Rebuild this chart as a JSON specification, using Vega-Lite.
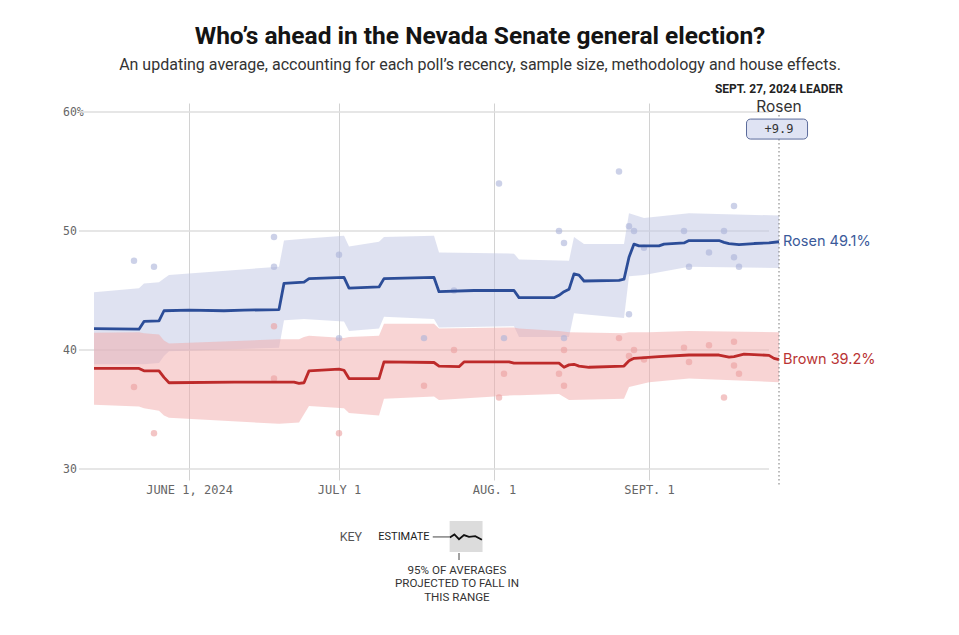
{
  "$schema": "https://vega.github.io/schema/vega-lite/v6.json",
  "width": 700,
  "height": 366,
  "autosize": {"type": "none"},
  "padding": {"left": 79, "top": 103, "right": 180, "bottom": 166},
  "background": "#ffffff",
  "config": {"view": {"stroke": null}},
  "title": {
    "text": "Who’s ahead in the Nevada Senate general election?",
    "subtitle": "An updating average, accounting for each poll’s recency, sample size, methodology and house effects.",
    "anchor": "middle",
    "dx": 51,
    "offset": 9,
    "font": "Roboto",
    "fontSize": 24.5,
    "fontWeight": "bold",
    "color": "#141414",
    "subtitleFont": "Roboto",
    "subtitleFontSize": 16,
    "subtitleColor": "#333333",
    "subtitlePadding": 8
  },
  "datasets": {
    "est": [
      {"date": "2024-05-13T00:00:00", "cand": "Rosen", "v": 41.8},
      {"date": "2024-05-22T00:00:00", "cand": "Rosen", "v": 41.75},
      {"date": "2024-05-23T00:00:00", "cand": "Rosen", "v": 42.4},
      {"date": "2024-05-26T00:00:00", "cand": "Rosen", "v": 42.45},
      {"date": "2024-05-27T00:00:00", "cand": "Rosen", "v": 43.3},
      {"date": "2024-06-01T00:00:00", "cand": "Rosen", "v": 43.35},
      {"date": "2024-06-08T00:00:00", "cand": "Rosen", "v": 43.3},
      {"date": "2024-06-12T00:00:00", "cand": "Rosen", "v": 43.35},
      {"date": "2024-06-19T00:00:00", "cand": "Rosen", "v": 43.4},
      {"date": "2024-06-20T00:00:00", "cand": "Rosen", "v": 45.6},
      {"date": "2024-06-24T00:00:00", "cand": "Rosen", "v": 45.7},
      {"date": "2024-06-25T00:00:00", "cand": "Rosen", "v": 46.0},
      {"date": "2024-07-02T00:00:00", "cand": "Rosen", "v": 46.1},
      {"date": "2024-07-03T00:00:00", "cand": "Rosen", "v": 45.2},
      {"date": "2024-07-09T00:00:00", "cand": "Rosen", "v": 45.3},
      {"date": "2024-07-10T00:00:00", "cand": "Rosen", "v": 46.0},
      {"date": "2024-07-20T00:00:00", "cand": "Rosen", "v": 46.1},
      {"date": "2024-07-21T00:00:00", "cand": "Rosen", "v": 44.9},
      {"date": "2024-07-28T00:00:00", "cand": "Rosen", "v": 45.0},
      {"date": "2024-08-05T00:00:00", "cand": "Rosen", "v": 45.0},
      {"date": "2024-08-06T00:00:00", "cand": "Rosen", "v": 44.4},
      {"date": "2024-08-13T00:00:00", "cand": "Rosen", "v": 44.4},
      {"date": "2024-08-14T00:00:00", "cand": "Rosen", "v": 44.6},
      {"date": "2024-08-15T00:00:00", "cand": "Rosen", "v": 44.9},
      {"date": "2024-08-16T00:00:00", "cand": "Rosen", "v": 45.1},
      {"date": "2024-08-17T00:00:00", "cand": "Rosen", "v": 46.4},
      {"date": "2024-08-18T00:00:00", "cand": "Rosen", "v": 46.3},
      {"date": "2024-08-19T00:00:00", "cand": "Rosen", "v": 45.8},
      {"date": "2024-08-26T00:00:00", "cand": "Rosen", "v": 45.85},
      {"date": "2024-08-27T00:00:00", "cand": "Rosen", "v": 45.95},
      {"date": "2024-08-28T00:00:00", "cand": "Rosen", "v": 47.8},
      {"date": "2024-08-29T00:00:00", "cand": "Rosen", "v": 48.9},
      {"date": "2024-08-30T00:00:00", "cand": "Rosen", "v": 48.75},
      {"date": "2024-09-03T00:00:00", "cand": "Rosen", "v": 48.75},
      {"date": "2024-09-04T00:00:00", "cand": "Rosen", "v": 48.9},
      {"date": "2024-09-08T00:00:00", "cand": "Rosen", "v": 49.0},
      {"date": "2024-09-09T00:00:00", "cand": "Rosen", "v": 49.2},
      {"date": "2024-09-15T00:00:00", "cand": "Rosen", "v": 49.2},
      {"date": "2024-09-16T00:00:00", "cand": "Rosen", "v": 49.05},
      {"date": "2024-09-17T00:00:00", "cand": "Rosen", "v": 48.95},
      {"date": "2024-09-19T00:00:00", "cand": "Rosen", "v": 48.85},
      {"date": "2024-09-22T00:00:00", "cand": "Rosen", "v": 48.95},
      {"date": "2024-09-25T00:00:00", "cand": "Rosen", "v": 49.0},
      {"date": "2024-09-27T00:00:00", "cand": "Rosen", "v": 49.1},
      {"date": "2024-05-13T00:00:00", "cand": "Brown", "v": 38.45},
      {"date": "2024-05-22T00:00:00", "cand": "Brown", "v": 38.45},
      {"date": "2024-05-23T00:00:00", "cand": "Brown", "v": 38.25},
      {"date": "2024-05-26T00:00:00", "cand": "Brown", "v": 38.25},
      {"date": "2024-05-27T00:00:00", "cand": "Brown", "v": 37.7},
      {"date": "2024-05-28T00:00:00", "cand": "Brown", "v": 37.25},
      {"date": "2024-06-10T00:00:00", "cand": "Brown", "v": 37.3},
      {"date": "2024-06-22T00:00:00", "cand": "Brown", "v": 37.3},
      {"date": "2024-06-23T00:00:00", "cand": "Brown", "v": 37.2},
      {"date": "2024-06-24T00:00:00", "cand": "Brown", "v": 37.25},
      {"date": "2024-06-25T00:00:00", "cand": "Brown", "v": 38.25},
      {"date": "2024-07-01T00:00:00", "cand": "Brown", "v": 38.4},
      {"date": "2024-07-02T00:00:00", "cand": "Brown", "v": 38.3},
      {"date": "2024-07-03T00:00:00", "cand": "Brown", "v": 37.6},
      {"date": "2024-07-09T00:00:00", "cand": "Brown", "v": 37.6},
      {"date": "2024-07-10T00:00:00", "cand": "Brown", "v": 39.0},
      {"date": "2024-07-20T00:00:00", "cand": "Brown", "v": 38.95},
      {"date": "2024-07-21T00:00:00", "cand": "Brown", "v": 38.65},
      {"date": "2024-07-25T00:00:00", "cand": "Brown", "v": 38.6},
      {"date": "2024-07-26T00:00:00", "cand": "Brown", "v": 39.0},
      {"date": "2024-08-04T00:00:00", "cand": "Brown", "v": 39.0},
      {"date": "2024-08-05T00:00:00", "cand": "Brown", "v": 38.9},
      {"date": "2024-08-14T00:00:00", "cand": "Brown", "v": 38.9},
      {"date": "2024-08-15T00:00:00", "cand": "Brown", "v": 38.55},
      {"date": "2024-08-16T00:00:00", "cand": "Brown", "v": 38.75},
      {"date": "2024-08-17T00:00:00", "cand": "Brown", "v": 38.8},
      {"date": "2024-08-18T00:00:00", "cand": "Brown", "v": 38.65},
      {"date": "2024-08-20T00:00:00", "cand": "Brown", "v": 38.55},
      {"date": "2024-08-27T00:00:00", "cand": "Brown", "v": 38.65},
      {"date": "2024-08-28T00:00:00", "cand": "Brown", "v": 39.1},
      {"date": "2024-08-29T00:00:00", "cand": "Brown", "v": 39.3},
      {"date": "2024-09-03T00:00:00", "cand": "Brown", "v": 39.45},
      {"date": "2024-09-09T00:00:00", "cand": "Brown", "v": 39.58},
      {"date": "2024-09-15T00:00:00", "cand": "Brown", "v": 39.58},
      {"date": "2024-09-17T00:00:00", "cand": "Brown", "v": 39.4},
      {"date": "2024-09-18T00:00:00", "cand": "Brown", "v": 39.45},
      {"date": "2024-09-20T00:00:00", "cand": "Brown", "v": 39.66},
      {"date": "2024-09-25T00:00:00", "cand": "Brown", "v": 39.55},
      {"date": "2024-09-26T00:00:00", "cand": "Brown", "v": 39.3},
      {"date": "2024-09-27T00:00:00", "cand": "Brown", "v": 39.2}
    ],
    "band": [
      {"date": "2024-05-13T00:00:00", "cand": "Rosen", "lo": 38.8, "hi": 44.85},
      {"date": "2024-05-22T00:00:00", "cand": "Rosen", "lo": 38.8, "hi": 45.2},
      {"date": "2024-05-23T00:00:00", "cand": "Rosen", "lo": 38.8, "hi": 45.6},
      {"date": "2024-05-26T00:00:00", "cand": "Rosen", "lo": 38.9, "hi": 45.7},
      {"date": "2024-05-27T00:00:00", "cand": "Rosen", "lo": 39.5, "hi": 46.0},
      {"date": "2024-05-28T00:00:00", "cand": "Rosen", "lo": 39.9, "hi": 46.3},
      {"date": "2024-06-19T00:00:00", "cand": "Rosen", "lo": 40.2, "hi": 47.0},
      {"date": "2024-06-20T00:00:00", "cand": "Rosen", "lo": 42.5, "hi": 49.2},
      {"date": "2024-06-24T00:00:00", "cand": "Rosen", "lo": 42.6, "hi": 49.35},
      {"date": "2024-07-02T00:00:00", "cand": "Rosen", "lo": 42.4, "hi": 49.6},
      {"date": "2024-07-03T00:00:00", "cand": "Rosen", "lo": 41.6, "hi": 48.7},
      {"date": "2024-07-09T00:00:00", "cand": "Rosen", "lo": 41.8, "hi": 49.1},
      {"date": "2024-07-10T00:00:00", "cand": "Rosen", "lo": 42.8, "hi": 49.5},
      {"date": "2024-07-20T00:00:00", "cand": "Rosen", "lo": 42.6, "hi": 49.6},
      {"date": "2024-07-21T00:00:00", "cand": "Rosen", "lo": 41.9, "hi": 48.2},
      {"date": "2024-08-05T00:00:00", "cand": "Rosen", "lo": 42.0, "hi": 48.1},
      {"date": "2024-08-06T00:00:00", "cand": "Rosen", "lo": 41.1, "hi": 47.6},
      {"date": "2024-08-16T00:00:00", "cand": "Rosen", "lo": 41.1, "hi": 47.5},
      {"date": "2024-08-17T00:00:00", "cand": "Rosen", "lo": 43.1, "hi": 49.5},
      {"date": "2024-08-19T00:00:00", "cand": "Rosen", "lo": 43.0, "hi": 48.9},
      {"date": "2024-08-27T00:00:00", "cand": "Rosen", "lo": 42.7, "hi": 48.9},
      {"date": "2024-08-28T00:00:00", "cand": "Rosen", "lo": 46.2, "hi": 51.5},
      {"date": "2024-08-31T00:00:00", "cand": "Rosen", "lo": 46.3, "hi": 51.1},
      {"date": "2024-09-09T00:00:00", "cand": "Rosen", "lo": 47.0, "hi": 51.5},
      {"date": "2024-09-27T00:00:00", "cand": "Rosen", "lo": 46.9, "hi": 51.3},
      {"date": "2024-05-13T00:00:00", "cand": "Brown", "lo": 35.4, "hi": 41.45},
      {"date": "2024-05-22T00:00:00", "cand": "Brown", "lo": 35.25, "hi": 41.5},
      {"date": "2024-05-23T00:00:00", "cand": "Brown", "lo": 35.1, "hi": 41.4},
      {"date": "2024-05-26T00:00:00", "cand": "Brown", "lo": 34.9, "hi": 41.3},
      {"date": "2024-05-27T00:00:00", "cand": "Brown", "lo": 34.5, "hi": 40.8},
      {"date": "2024-05-28T00:00:00", "cand": "Brown", "lo": 34.3, "hi": 40.55},
      {"date": "2024-06-19T00:00:00", "cand": "Brown", "lo": 33.8, "hi": 40.9},
      {"date": "2024-06-23T00:00:00", "cand": "Brown", "lo": 33.9, "hi": 40.9},
      {"date": "2024-06-24T00:00:00", "cand": "Brown", "lo": 34.6, "hi": 41.1},
      {"date": "2024-06-25T00:00:00", "cand": "Brown", "lo": 35.3, "hi": 41.2},
      {"date": "2024-07-02T00:00:00", "cand": "Brown", "lo": 35.1, "hi": 41.0},
      {"date": "2024-07-03T00:00:00", "cand": "Brown", "lo": 34.7, "hi": 41.1},
      {"date": "2024-07-09T00:00:00", "cand": "Brown", "lo": 34.5, "hi": 41.2},
      {"date": "2024-07-10T00:00:00", "cand": "Brown", "lo": 35.9, "hi": 42.2},
      {"date": "2024-07-20T00:00:00", "cand": "Brown", "lo": 36.1, "hi": 42.2},
      {"date": "2024-07-21T00:00:00", "cand": "Brown", "lo": 35.8, "hi": 41.8},
      {"date": "2024-08-05T00:00:00", "cand": "Brown", "lo": 36.2, "hi": 41.9},
      {"date": "2024-08-06T00:00:00", "cand": "Brown", "lo": 36.2, "hi": 41.8},
      {"date": "2024-08-14T00:00:00", "cand": "Brown", "lo": 36.3, "hi": 41.6},
      {"date": "2024-08-16T00:00:00", "cand": "Brown", "lo": 35.8, "hi": 41.5},
      {"date": "2024-08-27T00:00:00", "cand": "Brown", "lo": 35.9, "hi": 41.4},
      {"date": "2024-08-28T00:00:00", "cand": "Brown", "lo": 36.9, "hi": 41.5},
      {"date": "2024-09-01T00:00:00", "cand": "Brown", "lo": 37.3, "hi": 41.5},
      {"date": "2024-09-09T00:00:00", "cand": "Brown", "lo": 37.6, "hi": 41.6},
      {"date": "2024-09-27T00:00:00", "cand": "Brown", "lo": 37.3, "hi": 41.5}
    ],
    "polls": [
      {"date": "2024-05-21T00:00:00", "cand": "Rosen", "v": 47.5},
      {"date": "2024-05-25T00:00:00", "cand": "Rosen", "v": 47.0},
      {"date": "2024-06-18T00:00:00", "cand": "Rosen", "v": 49.5},
      {"date": "2024-06-18T00:00:00", "cand": "Rosen", "v": 47.0},
      {"date": "2024-07-01T00:00:00", "cand": "Rosen", "v": 48.0},
      {"date": "2024-07-01T00:00:00", "cand": "Rosen", "v": 41.0},
      {"date": "2024-07-18T00:00:00", "cand": "Rosen", "v": 41.0},
      {"date": "2024-07-24T00:00:00", "cand": "Rosen", "v": 45.0},
      {"date": "2024-08-02T00:00:00", "cand": "Rosen", "v": 54.0},
      {"date": "2024-08-03T00:00:00", "cand": "Rosen", "v": 41.0},
      {"date": "2024-08-14T00:00:00", "cand": "Rosen", "v": 50.0},
      {"date": "2024-08-15T00:00:00", "cand": "Rosen", "v": 49.0},
      {"date": "2024-08-15T00:00:00", "cand": "Rosen", "v": 41.0},
      {"date": "2024-08-26T00:00:00", "cand": "Rosen", "v": 55.0},
      {"date": "2024-08-28T00:00:00", "cand": "Rosen", "v": 50.4},
      {"date": "2024-08-28T00:00:00", "cand": "Rosen", "v": 43.0},
      {"date": "2024-08-29T00:00:00", "cand": "Rosen", "v": 50.0},
      {"date": "2024-08-31T00:00:00", "cand": "Rosen", "v": 48.6},
      {"date": "2024-09-08T00:00:00", "cand": "Rosen", "v": 50.0},
      {"date": "2024-09-09T00:00:00", "cand": "Rosen", "v": 47.0},
      {"date": "2024-09-13T00:00:00", "cand": "Rosen", "v": 48.2},
      {"date": "2024-09-16T00:00:00", "cand": "Rosen", "v": 50.0},
      {"date": "2024-09-18T00:00:00", "cand": "Rosen", "v": 52.1},
      {"date": "2024-09-18T00:00:00", "cand": "Rosen", "v": 47.8},
      {"date": "2024-09-19T00:00:00", "cand": "Rosen", "v": 47.0},
      {"date": "2024-05-21T00:00:00", "cand": "Brown", "v": 36.9},
      {"date": "2024-05-25T00:00:00", "cand": "Brown", "v": 33.0},
      {"date": "2024-06-18T00:00:00", "cand": "Brown", "v": 42.0},
      {"date": "2024-06-18T00:00:00", "cand": "Brown", "v": 37.6},
      {"date": "2024-07-01T00:00:00", "cand": "Brown", "v": 33.0},
      {"date": "2024-07-18T00:00:00", "cand": "Brown", "v": 37.0},
      {"date": "2024-07-24T00:00:00", "cand": "Brown", "v": 40.0},
      {"date": "2024-08-02T00:00:00", "cand": "Brown", "v": 36.0},
      {"date": "2024-08-03T00:00:00", "cand": "Brown", "v": 38.0},
      {"date": "2024-08-14T00:00:00", "cand": "Brown", "v": 38.0},
      {"date": "2024-08-15T00:00:00", "cand": "Brown", "v": 40.0},
      {"date": "2024-08-15T00:00:00", "cand": "Brown", "v": 37.0},
      {"date": "2024-08-26T00:00:00", "cand": "Brown", "v": 41.0},
      {"date": "2024-08-28T00:00:00", "cand": "Brown", "v": 39.5},
      {"date": "2024-08-29T00:00:00", "cand": "Brown", "v": 40.0},
      {"date": "2024-08-31T00:00:00", "cand": "Brown", "v": 39.2},
      {"date": "2024-09-08T00:00:00", "cand": "Brown", "v": 40.2},
      {"date": "2024-09-09T00:00:00", "cand": "Brown", "v": 39.0},
      {"date": "2024-09-13T00:00:00", "cand": "Brown", "v": 40.4},
      {"date": "2024-09-16T00:00:00", "cand": "Brown", "v": 36.0},
      {"date": "2024-09-18T00:00:00", "cand": "Brown", "v": 40.7},
      {"date": "2024-09-18T00:00:00", "cand": "Brown", "v": 38.7},
      {"date": "2024-09-19T00:00:00", "cand": "Brown", "v": 38.0}
    ],
    "labels": [
      {"date": "2024-09-27T00:00:00", "cand": "Rosen", "v": 49.1, "label": "Rosen 49.1%"},
      {"date": "2024-09-27T00:00:00", "cand": "Brown", "v": 39.2, "label": "Brown 39.2%"}
    ],
    "grid": [{"v": 30}, {"v": 40}, {"v": 50}, {"v": 60}],
    "keyline": [
      {"date": "2024-07-23T04:00:00", "v": 24.25},
      {"date": "2024-07-24T02:00:00", "v": 24.5},
      {"date": "2024-07-25T00:00:00", "v": 24.1},
      {"date": "2024-07-26T00:00:00", "v": 24.45},
      {"date": "2024-07-27T00:00:00", "v": 24.3},
      {"date": "2024-07-28T06:00:00", "v": 24.35},
      {"date": "2024-07-29T14:00:00", "v": 24.05}
    ]
  },
  "resolve": {"scale": {"color": "independent"}},
  "layer": [
    {
      "data": {"name": "grid"},
      "mark": {"type": "rule", "color": "#dedede", "strokeWidth": 1.5},
      "encoding": {
        "y": {"field": "v", "type": "quantitative", "scale": {"domain": [30, 60.76], "nice": false, "zero": false},
          "axis": {"values": [30, 40, 50, 60], "grid": false, "ticks": false, "tickSize": 0, "domain": false, "title": null,
            "labelExpr": "datum.value == 60 ? '60%' : datum.label", "labelAlign": "left", "labelPadding": 16.5,
            "labelFont": "DejaVu Sans Mono", "labelFontSize": 11.5, "labelColor": "#666666"}},
        "x": {"datum": {"year": 2024, "month": 5, "date": 10}, "type": "temporal",
          "scale": {"domain": [{"year": 2024, "month": 5, "date": 10}, {"year": 2024, "month": 9, "date": 27}]},
          "axis": {"values": [{"year": 2024, "month": 6, "date": 1}, {"year": 2024, "month": 7, "date": 1}, {"year": 2024, "month": 8, "date": 1}, {"year": 2024, "month": 9, "date": 1}],
            "labelExpr": "month(datum.value) == 5 ? 'JUNE 1, 2024' : month(datum.value) == 6 ? 'JULY 1' : month(datum.value) == 7 ? 'AUG. 1' : 'SEPT. 1'",
            "grid": true, "gridColor": "#d2d2d2", "gridWidth": 1, "ticks": true, "tickSize": 11, "tickColor": "#d2d2d2",
            "domain": false, "title": null, "labelPadding": 4, "labelFont": "DejaVu Sans Mono", "labelFontSize": 12, "labelColor": "#666666"}},
        "x2": {"datum": {"year": 2024, "month": 9, "date": 25}}
      }
    },
    {
      "data": {"name": "band"},
      "mark": {"type": "area", "opacity": 0.5, "interpolate": "linear"},
      "encoding": {
        "x": {"field": "date", "type": "temporal"},
        "y": {"field": "lo", "type": "quantitative"},
        "y2": {"field": "hi"},
        "color": {"field": "cand", "type": "nominal", "scale": {"domain": ["Rosen", "Brown"], "range": ["#bfc6e3", "#f2aaaa"]}, "legend": null}
      }
    },
    {
      "data": {"name": "polls"},
      "mark": {"type": "circle", "size": 42, "opacity": 0.6},
      "encoding": {
        "x": {"field": "date", "type": "temporal"},
        "y": {"field": "v", "type": "quantitative"},
        "color": {"field": "cand", "type": "nominal", "scale": {"domain": ["Rosen", "Brown"], "range": ["#aab3d9", "#eb9e9e"]}, "legend": null}
      }
    },
    {
      "data": {"name": "est"},
      "mark": {"type": "line", "strokeWidth": 2.8, "strokeJoin": "round"},
      "encoding": {
        "x": {"field": "date", "type": "temporal"},
        "y": {"field": "v", "type": "quantitative"},
        "color": {"field": "cand", "type": "nominal", "scale": {"domain": ["Rosen", "Brown"], "range": ["#2c4d98", "#bd2a2a"]}, "legend": null}
      }
    },
    {
      "data": {"values": [{}]},
      "mark": {"type": "rule", "color": "#777777", "strokeWidth": 1, "strokeDash": [1.5, 2.5]},
      "encoding": {
        "x": {"datum": {"year": 2024, "month": 9, "date": 27}, "type": "temporal"},
        "y": {"datum": 59.75, "type": "quantitative"},
        "y2": {"datum": 28.5}
      }
    },
    {
      "data": {"name": "labels"},
      "mark": {"type": "text", "align": "left", "baseline": "middle", "dx": 4, "font": "Inter", "fontSize": 14.5},
      "encoding": {
        "x": {"field": "date", "type": "temporal"},
        "y": {"field": "v", "type": "quantitative"},
        "text": {"field": "label"},
        "color": {"field": "cand", "type": "nominal", "scale": {"domain": ["Rosen", "Brown"], "range": ["#3b5a9a", "#b93434"]}, "legend": null}
      }
    },
    {
      "data": {"values": [{}]},
      "mark": {"type": "text", "align": "center", "baseline": "middle", "font": "Roboto", "fontWeight": "bold", "fontSize": 12, "color": "#222222"},
      "encoding": {
        "x": {"datum": {"year": 2024, "month": 9, "date": 27}, "type": "temporal"},
        "y": {"datum": 61.93, "type": "quantitative"},
        "text": {"value": "SEPT. 27, 2024 LEADER"}
      }
    },
    {
      "data": {"values": [{}]},
      "mark": {"type": "text", "align": "center", "baseline": "middle", "font": "Inter", "fontSize": 15.5, "color": "#333333"},
      "encoding": {
        "x": {"datum": {"year": 2024, "month": 9, "date": 27}, "type": "temporal"},
        "y": {"datum": 60.42, "type": "quantitative"},
        "text": {"value": "Rosen"}
      }
    },
    {
      "data": {"values": [{}]},
      "mark": {"type": "rect", "fill": "#dfe3f3", "stroke": "#5b6b9b", "strokeWidth": 1, "cornerRadius": 4},
      "encoding": {
        "x": {"datum": {"year": 2024, "month": 9, "date": 20, "hours": 12}, "type": "temporal"},
        "x2": {"datum": {"year": 2024, "month": 10, "date": 2, "hours": 17}},
        "y": {"datum": 59.41, "type": "quantitative"},
        "y2": {"datum": 57.73}
      }
    },
    {
      "data": {"values": [{}]},
      "mark": {"type": "text", "align": "center", "baseline": "middle", "font": "DejaVu Sans Mono", "fontSize": 12, "color": "#333333"},
      "encoding": {
        "x": {"datum": {"year": 2024, "month": 9, "date": 27}, "type": "temporal"},
        "y": {"datum": 58.57, "type": "quantitative"},
        "text": {"value": "+9.9"}
      }
    },
    {
      "data": {"values": [{}]},
      "mark": {"type": "text", "align": "left", "baseline": "middle", "font": "Roboto", "fontSize": 12.5, "color": "#555555"},
      "encoding": {
        "x": {"datum": {"year": 2024, "month": 7, "date": 1, "hours": 3}, "type": "temporal"},
        "y": {"datum": 24.29, "type": "quantitative"},
        "text": {"value": "KEY"}
      }
    },
    {
      "data": {"values": [{}]},
      "mark": {"type": "text", "align": "right", "baseline": "middle", "font": "Roboto", "fontSize": 11, "color": "#222222"},
      "encoding": {
        "x": {"datum": {"year": 2024, "month": 7, "date": 19, "hours": 3}, "type": "temporal"},
        "y": {"datum": 24.29, "type": "quantitative"},
        "text": {"value": "ESTIMATE"}
      }
    },
    {
      "data": {"values": [{}]},
      "mark": {"type": "rule", "color": "#444444", "strokeWidth": 1},
      "encoding": {
        "x": {"datum": {"year": 2024, "month": 7, "date": 19, "hours": 18}, "type": "temporal"},
        "x2": {"datum": {"year": 2024, "month": 7, "date": 23, "hours": 4}},
        "y": {"datum": 24.29, "type": "quantitative"}
      }
    },
    {
      "data": {"values": [{}]},
      "mark": {"type": "rect", "fill": "#dcdcdc"},
      "encoding": {
        "x": {"datum": {"year": 2024, "month": 7, "date": 23, "hours": 3}, "type": "temporal"},
        "x2": {"datum": {"year": 2024, "month": 7, "date": 29, "hours": 17}},
        "y": {"datum": 25.63, "type": "quantitative"},
        "y2": {"datum": 23.03}
      }
    },
    {
      "data": {"name": "keyline"},
      "mark": {"type": "line", "color": "#111111", "strokeWidth": 1.8},
      "encoding": {
        "x": {"field": "date", "type": "temporal"},
        "y": {"field": "v", "type": "quantitative"}
      }
    },
    {
      "data": {"values": [{}]},
      "mark": {"type": "rule", "color": "#444444", "strokeWidth": 1},
      "encoding": {
        "x": {"datum": {"year": 2024, "month": 7, "date": 25}, "type": "temporal"},
        "y": {"datum": 22.94, "type": "quantitative"},
        "y2": {"datum": 22.35}
      }
    },
    {
      "data": {"values": [{}]},
      "mark": {"type": "text", "align": "center", "baseline": "top", "font": "Roboto", "fontSize": 11.6, "lineHeight": 13.5, "color": "#333333"},
      "encoding": {
        "x": {"datum": {"year": 2024, "month": 7, "date": 24, "hours": 14}, "type": "temporal"},
        "y": {"datum": 21.95, "type": "quantitative"},
        "text": {"value": ["95% OF AVERAGES", "PROJECTED TO FALL IN", "THIS RANGE"]}
      }
    }
  ]
}
